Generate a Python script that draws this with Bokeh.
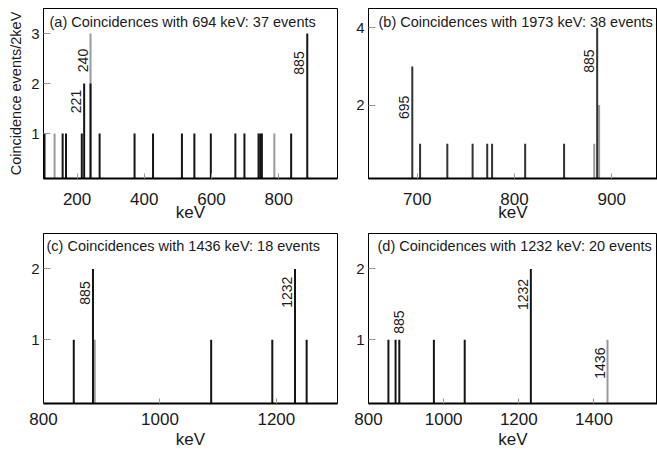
import math
from bokeh.plotting import figure
from bokeh.layouts import gridplot
from bokeh.models import Range1d, FixedTicker, Label
from bokeh.core.properties import value
from bokeh.embed import file_html
from bokeh.resources import INLINE

FONT = "Liberation Sans"
TXT = "#1a1a1a"

# ---------------- data ----------------
# Panel (a): coincidences with 694 keV
a_title = "(a) Coincidences with 694 keV: 37 events"
a_black_e = [103, 157, 167, 214, 221, 240, 267, 371, 426, 512, 549, 598, 671, 698, 740, 745, 750, 837, 885]
a_black_n = [1, 1, 1, 1, 2, 2, 1, 1, 1, 1, 1, 1, 1, 1, 1, 1, 1, 1, 3]
a_gray_e = [133, 240, 787]
a_gray_n = [1, 3, 1]
a_lab_e = [221, 240, 885]
a_lab_y = [1.64, 2.46, 2.41]
a_lab_t = ["221", "240", "885"]
a_xticks = [200, 400, 600, 800]
a_yticks = [1, 2, 3]

# Panel (b): coincidences with 1973 keV
b_title = "(b) Coincidences with 1973 keV: 38 events"
b_black_e = [695, 703, 731, 757, 772, 777, 811, 851, 885]
b_black_n = [3, 1, 1, 1, 1, 1, 1, 1, 4]
b_gray_e = [882, 887]
b_gray_n = [1, 2]
b_lab_e = [695, 885]
b_lab_y = [1.94, 3.14]
b_lab_t = ["695", "885"]
b_xticks = [700, 800, 900]
b_yticks = [2, 4]

# Panel (c): coincidences with 1436 keV
c_title = "(c) Coincidences with 1436 keV: 18 events"
c_black_e = [852, 885, 1088, 1193, 1232, 1252]
c_black_n = [1, 2, 1, 1, 2, 1]
c_gray_e = [888]
c_gray_n = [1]
c_lab_e = [885, 1232]
c_lab_y = [1.66, 1.67]
c_lab_t = ["885", "1232"]
c_xticks = [800, 1000, 1200]
c_yticks = [1, 2]

# Panel (d): coincidences with 1232 keV
d_title = "(d) Coincidences with 1232 keV: 20 events"
d_black_e = [853, 872, 882, 974, 1056, 1232]
d_black_n = [1, 1, 1, 1, 1, 2]
d_gray_e = [1436]
d_gray_n = [1]
d_lab_e = [1232, 1436]
d_lab_y = [1.64, 0.67]
d_lab_t = ["1232", "1436"]
d_top_lab_e = [882]
d_top_lab_y = [1.25]
d_top_lab_t = ["885"]
d_xticks = [800, 1000, 1200, 1400]
d_yticks = [1, 2]

x_label = "keV"
y_label = "Coincidence events/2keV"


def panel(title, be, bn, ge, gn, le, ly, lt, xt, yt, xr, yr, width, height,
          bl, br, bt, bb, title_dx, title_dy, bar_color, tick_standoff, xlabel_standoff,
          ylabel=None):
    p = figure(width=width, height=height, output_backend="svg", toolbar_location=None,
               x_range=Range1d(*xr), y_range=Range1d(*yr),
               min_border_left=bl, min_border_right=br, min_border_top=bt,
               min_border_bottom=bb)
    p.background_fill_color = "white"
    p.border_fill_color = "white"
    p.outline_line_color = "black"
    p.outline_line_width = 1
    p.grid.visible = False

    # bars
    p.segment(x0=ge, y0=[0] * len(ge), x1=ge, y1=gn, line_color="#9a9a9a", line_width=2)
    p.segment(x0=be, y0=[0] * len(be), x1=be, y1=bn, line_color=bar_color, line_width=2)

    # peak labels (rotated, to the left of the peak)
    p.text(x=le, y=ly, text=lt, angle=math.pi / 2, text_align="center",
           text_baseline="middle", x_offset=-8, text_font=value(FONT),
           text_font_size="14px", text_color=TXT)

    # title inside frame
    p.add_layout(Label(x=xr[0], y=yr[1], x_offset=title_dx, y_offset=-title_dy, text=title,
                       text_align="left", text_baseline="top", text_font=FONT,
                       text_font_size="14.5px", text_color=TXT))

    xa = p.xaxis[0]
    xa.ticker = FixedTicker(ticks=xt)
    xa.minor_tick_line_color = None
    xa.major_tick_in = 5
    xa.major_tick_out = 0
    xa.major_tick_line_color = "#999999"
    xa.axis_line_width = 2
    xa.axis_line_color = "black"
    xa.major_label_text_font = FONT
    xa.major_label_text_font_size = "17px"
    xa.major_label_text_color = TXT
    xa.major_label_standoff = tick_standoff
    xa.axis_label = x_label
    xa.axis_label_text_font = FONT
    xa.axis_label_text_font_size = "17px"
    xa.axis_label_text_font_style = "normal"
    xa.axis_label_text_color = TXT
    xa.axis_label_standoff = xlabel_standoff

    ya = p.yaxis[0]
    ya.ticker = FixedTicker(ticks=yt)
    ya.minor_tick_line_color = None
    ya.major_tick_in = 7
    ya.major_tick_out = 0
    ya.major_tick_line_color = "#999999"
    ya.axis_line_color = "black"
    ya.major_label_text_font = FONT
    ya.major_label_text_font_size = "15px"
    ya.major_label_text_color = TXT
    ya.major_label_standoff = 4
    if ylabel:
        ya.axis_label = ylabel
        ya.axis_label_text_font = FONT
        ya.axis_label_text_font_size = "14.5px"
        ya.axis_label_text_font_style = "normal"
        ya.axis_label_text_color = TXT
        ya.axis_label_standoff = 4
    return p


pa = panel(a_title, a_black_e, a_black_n, a_gray_e, a_gray_n, a_lab_e, a_lab_y, a_lab_t,
           a_xticks, a_yticks, (100, 975), (0.1, 3.5), 348, 233, 43, 11, 8, 55, 6, 5,
           "#151515", 14, -5, ylabel=y_label)
pb = panel(b_title, b_black_e, b_black_n, b_gray_e, b_gray_n, b_lab_e, b_lab_y, b_lab_t,
           b_xticks, b_yticks, (650, 947), (0.1, 4.5), 309, 233, 20, 0, 8, 55, 10, 5,
           "#333333", 14, -5)
pc = panel(c_title, c_black_e, c_black_n, c_gray_e, c_gray_n, c_lab_e, c_lab_y, c_lab_t,
           c_xticks, c_yticks, (800, 1305), (0.1, 2.5), 348, 218, 43, 10, 0, 48, 3, 4,
           "#151515", 9, 2)
pd = panel(d_title, d_black_e, d_black_n, d_gray_e, d_gray_n, d_lab_e, d_lab_y, d_lab_t,
           d_xticks, d_yticks, (800, 1569), (0.1, 2.5), 309, 218, 20, 0, 0, 48, 9, 4,
           "#151515", 9, 2)
pd.text(x=d_top_lab_e, y=d_top_lab_y, text=d_top_lab_t, angle=math.pi / 2, text_align="center",
        text_baseline="middle", text_font=value(FONT), text_font_size="14px", text_color=TXT)

grid = gridplot([[pa, pb], [pc, pd]], toolbar_location=None)

open("out.html", "w").write(file_html(grid, INLINE))
